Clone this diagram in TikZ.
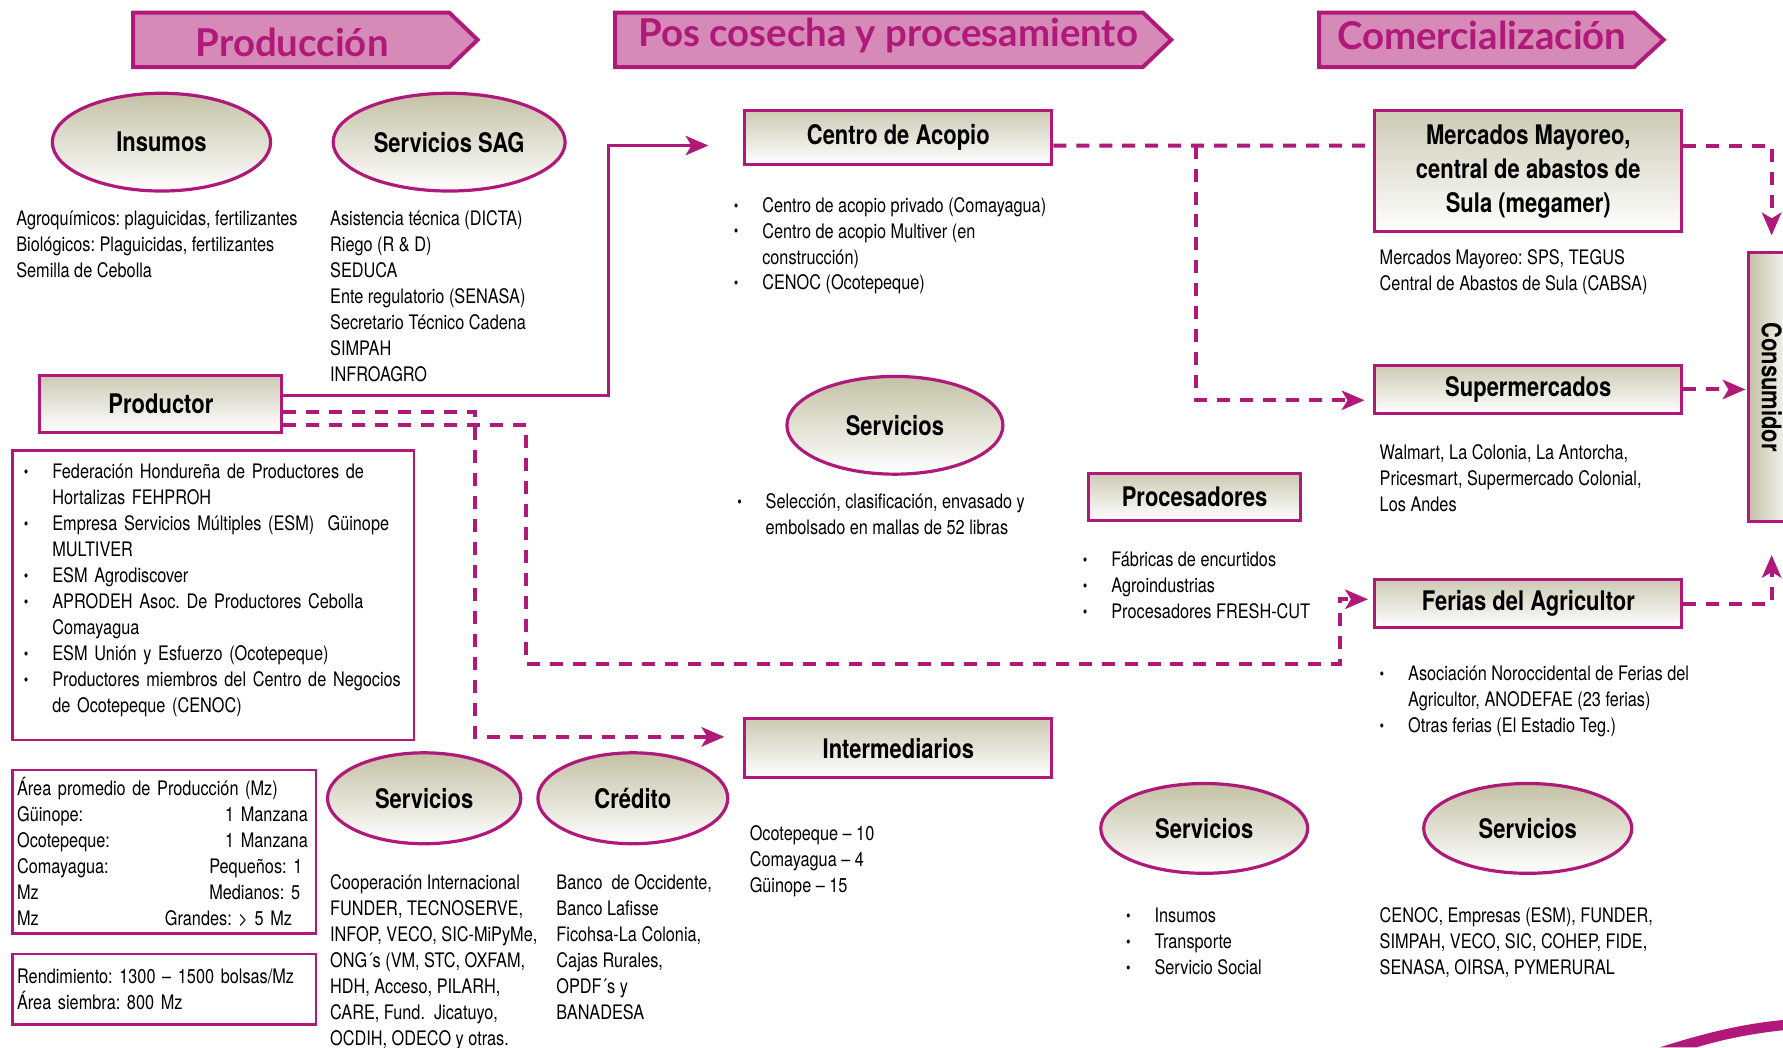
\documentclass[tikz,border=0pt]{standalone}
\usepackage{fontspec}
\setmainfont{TeX Gyre Heros}[FakeStretch=0.815]
\newfontfamily\titulofont{Lato}
\usetikzlibrary{shapes.geometric,arrows.meta}
\frenchspacing

\definecolor{mag}{RGB}{176,25,122}
\definecolor{rosa}{RGB}{214,138,184}
\definecolor{caqui}{RGB}{196,193,166}

\newcommand{\vin}{\makebox[0.5cm][l]{\raisebox{0.1ex}{\footnotesize\textbullet}}}
\newcommand{\sig}{\hspace*{0.5cm}}

\tikzset{
  etapa/.style={draw=mag, line width=2pt, fill=rosa},
  etapatxt/.style={text=mag, font=\titulofont\bfseries\fontsize{19.2}{22}\selectfont},
  elipse/.style={ellipse, draw=mag, line width=1.6pt, top color=caqui, bottom color=white, font=\bfseries\fontsize{13.5}{16}\selectfont},
  caja/.style={rectangle, draw=mag, line width=1.5pt, top color=caqui!85, bottom color=white, align=center, font=\bfseries\fontsize{13.5}{17}\selectfont},
  marco/.style={rectangle, draw=mag, line width=1.2pt, fill=white, anchor=north west, align=left, font=\fontsize{10}{13}\selectfont},
  texto/.style={anchor=north west, inner sep=0pt, align=left, font=\fontsize{10}{13}\selectfont},
  punta/.style={-{Stealth[length=0.4cm, width=0.34cm, inset=0.1cm]}},
  flujo/.style={mag, line width=1.6pt, punta},
  rayas/.style={mag, line width=2pt, dash pattern=on 6.5pt off 5pt}
}

\begin{document}
\begin{tikzpicture}[x=0.02cm, y=-0.02cm]
\useasboundingbox (0,0) rectangle (1568,921);

% etapas
\draw[etapa] (117,11) -- (395,11) -- (420,35) -- (395,59) -- (117,59) -- cycle;
\node[etapatxt] (tprod) at (257,37) {Producción};
\draw[etapa] (541,11) -- (1005,11) -- (1030,35) -- (1005,59) -- (541,59) -- cycle;
\node[etapatxt] (tpos) at (781,31) {Pos cosecha y procesamiento};
\draw[etapa] (1160,11) -- (1437,11) -- (1463,35) -- (1437,59) -- (1160,59) -- cycle;
\node[etapatxt] (tcom) at (1303,31) {Comercialización};

% produccion
\node[elipse, minimum width=3.84cm, minimum height=1.72cm] (insumos) at (142,125) {Insumos};
\node[elipse, minimum width=3.8cm, minimum height=1.72cm] (sag) at (395,125) {Servicios SAG};
\node[texto] (tinsumos) at (14,185) {Agroquímicos: plaguicidas, fertilizantes\\ Biológicos: Plaguicidas, fertilizantes\\ Semilla de Cebolla};
\node[texto] (tsag) at (290,185) {Asistencia técnica (DICTA)\\ Riego (R \& D)\\ SEDUCA\\ Ente regulatorio (SENASA)\\ Secretario Técnico Cadena\\ SIMPAH\\ INFROAGRO};

\node[caja, minimum width=4.26cm, minimum height=1cm] (productor) at (141.5,355) {Productor};
\node[marco, text width=6.66cm, inner xsep=0.2cm, minimum height=5.1cm] (orgs) at (10,395) {\vin \mbox{Federación Hondureña de Productores de}\\ \sig Hortalizas FEHPROH\\ \vin \mbox{Empresa Servicios Múltiples (ESM)\ \ Güinope}\\ \sig MULTIVER\\ \vin ESM Agrodiscover\\ \vin \mbox{APRODEH Asoc. De Productores Cebolla}\\ \sig Comayagua\\ \vin \mbox{ESM Unión y Esfuerzo (Ocotepeque)}\\ \vin \mbox{Productores miembros del Centro de Negocios}\\ \sig de Ocotepeque (CENOC)\rule[-0.26cm]{0pt}{0pt}};
\node[marco, text width=5.18cm, inner xsep=0.08cm, minimum height=2.88cm] (area) at (10,676) {Área promedio de Producción (Mz)\\ \makebox[3.66cm][l]{Güinope:}1 Manzana\\ \makebox[3.66cm][l]{Ocotepeque:}1 Manzana\\ \makebox[3.38cm][l]{Comayagua:}Pequeños: 1\\ \makebox[3.38cm][l]{Mz}Medianos: 5\\ \makebox[2.6cm][l]{Mz}Grandes: > 5 Mz};
\node[marco, text width=5.18cm, inner xsep=0.08cm, minimum height=1.24cm] (rend) at (10,838) {Rendimiento: 1300 – 1500 bolsas/Mz\\ Área siembra: 800 Mz};

\node[elipse, minimum width=3.4cm, minimum height=1.6cm] (servA) at (373,702) {Servicios};
\node[elipse, minimum width=3.34cm, minimum height=1.6cm] (credito) at (556.5,702) {Crédito};
\node[texto] (tservA) at (290,769) {Cooperación Internacional\\ FUNDER, TECNOSERVE,\\ INFOP, VECO, SIC-MiPyMe,\\ ONG´s (VM, STC, OXFAM,\\ HDH, Acceso, PILARH,\\ CARE, Fund.\ \ Jicatuyo,\\ OCDIH, ODECO y otras.};
\node[texto] (tcredito) at (489,769) {Banco\ \ de Occidente,\\ Banco Lafisse\\ Ficohsa-La Colonia,\\ Cajas Rurales,\\ OPDF´s y\\ BANADESA};

% pos cosecha
\node[caja, minimum width=5.4cm, minimum height=0.96cm] (acopio) at (790,121) {Centro de Acopio};
\node[texto] (tacopio) at (645,173) {\vin Centro de acopio privado (Comayagua)\\ \vin Centro de acopio Multiver (en\\ \sig construcción)\\ \vin CENOC (Ocotepeque)};
\node[elipse, minimum width=3.8cm, minimum height=1.72cm] (servM) at (787,374) {Servicios};
\node[texto] (tservM) at (648,434) {\vin Selección, clasificación, envasado y\\ \sig embolsado en mallas de 52 libras};
\node[caja, minimum width=3.74cm, minimum height=0.84cm] (proc) at (1050.5,437) {Procesadores};
\node[texto] (tproc) at (952,485) {\vin Fábricas de encurtidos\\ \vin Agroindustrias\\ \vin Procesadores FRESH-CUT};
\node[caja, minimum width=5.4cm, minimum height=1.04cm] (inter) at (790,658) {Intermediarios};
\node[texto] (tinter) at (659,726) {Ocotepeque – 10\\ Comayagua – 4\\ Güinope – 15};
\node[elipse, minimum width=3.64cm, minimum height=1.58cm] (servB) at (1059,728.5) {Servicios};
\node[texto] (tservB) at (990,798) {\vin Insumos\\ \vin Transporte\\ \vin Servicio Social};

% comercializacion
\node[caja, minimum width=5.4cm, minimum height=2.14cm] (mercados) at (1344,150.5) {Mercados Mayoreo,\\ central de abastos de\\ Sula (megamer)};
\node[texto] (tmercados) at (1213,219) {Mercados Mayoreo: SPS, TEGUS\\ Central de Abastos de Sula (CABSA)};
\node[caja, minimum width=5.4cm, minimum height=0.86cm] (super) at (1344,342.5) {Supermercados};
\node[texto] (tsuper) at (1213,391) {Walmart, La Colonia, La Antorcha,\\ Pricesmart, Supermercado Colonial,\\ Los Andes};
\node[caja, minimum width=5.4cm, minimum height=0.84cm] (ferias) at (1344,531) {Ferias del Agricultor};
\node[texto] (tferias) at (1213,585) {\vin Asociación Noroccidental de Ferias del\\ \sig Agricultor, ANODEFAE (23 ferias)\\ \vin Otras ferias (El Estadio Teg.)};
\node[elipse, minimum width=3.66cm, minimum height=1.58cm] (servC) at (1343.5,728.5) {Servicios};
\node[texto] (tservC) at (1213,798) {CENOC, Empresas (ESM), FUNDER,\\ SIMPAH, VECO, SIC, COHEP, FIDE,\\ SENASA, OIRSA, PYMERURAL};
\node[caja, left color=caqui, right color=white, minimum width=0.8cm, minimum height=4.74cm] (consumidor) at (1558,340.5) {\rotatebox{-90}{Consumidor}};

% flujos
\coordinate (aA) at (623,128);
\coordinate (aI) at (637,648);
\coordinate (aF) at (1203,527);
\coordinate (aS) at (1200,352);
\coordinate (aC1) at (1558,207);
\coordinate (aC2) at (1535,342.5);
\coordinate (aC3) at (1558,488);
\draw[flujo] ([yshift=0.15cm]productor.east) -| (535,128) -- (aA);
\draw[rayas, punta] ([yshift=-0.15cm]productor.east) -| (418,648) -- (aI);
\draw[rayas, punta] ([yshift=-0.38cm]productor.east) -| (463,584) -| (1178,527) -- (aF);
\draw[rayas] ([yshift=-0.14cm]acopio.east) -- ([yshift=0.45cm]mercados.west);
\draw[rayas, punta] (1052,128) |- (aS);
\draw[rayas, punta] ([yshift=0.45cm]mercados.east) -| (aC1);
\draw[rayas, punta] (super.east) -- (aC2);
\draw[rayas, punta] (ferias.east) -| (aC3);

% adorno
\fill[mag] (1460,921) .. controls (1500,908) and (1535,900) .. (1568,897) -- (1568,906) .. controls (1540,909) and (1515,914) .. (1492,921) -- cycle;
\end{tikzpicture}
\end{document}
